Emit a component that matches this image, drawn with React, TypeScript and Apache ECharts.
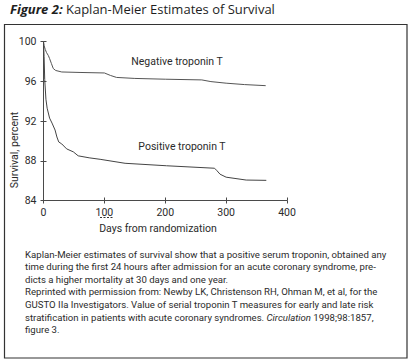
import React, { useEffect, useRef } from "react";
import * as echarts from "echarts";

// ---- Data ----
const negativeTroponin: [number, number][] = [
  [0, 100], [1, 99.6], [3, 99.2], [5, 98.9], [8, 98.6], [10, 98.3], [13, 97.8],
  [16, 97.3], [20, 97.1], [30, 96.95], [60, 96.9], [100, 96.85], [110, 96.6],
  [120, 96.4], [150, 96.3], [200, 96.22], [260, 96.15], [275, 95.98], [300, 95.82],
  [330, 95.68], [365, 95.57],
];

const positiveTroponin: [number, number][] = [
  [0, 100], [1, 98.5], [2, 96.2], [4, 94.2], [6, 93.3], [10, 92.3], [14, 91.8],
  [19, 91.1], [22, 90.4], [25, 89.9], [30, 89.7], [38, 89.2], [49, 88.9], [57, 88.5],
  [75, 88.3], [93, 88.15], [134, 87.75], [202, 87.5], [281, 87.25], [285, 87.0],
  [290, 86.65], [300, 86.35], [333, 86.06], [366, 86.03],
];

const xTicks = { min: 0, max: 400, interval: 100 };
const yTicks = { min: 84, max: 100, interval: 4 };

const titleBold = "Figure 2:";
const titleRest = "Kaplan-Meier Estimates of Survival";
const yAxisTitle = "Survival, percent";
const xAxisTitle = "Days from randomization";
const negLabel = "Negative troponin T";
const posLabel = "Positive troponin T";

const captionLines: string[] = [
  "Kaplan-Meier estimates of survival show that a positive serum troponin, obtained any",
  "time during the first 24 hours after admission for an acute coronary syndrome, pre-",
  "dicts a higher mortality at 30 days and one year.",
  "Reprinted with permission from: Newby LK, Christenson RH, Ohman M, et al, for the",
  "GUSTO IIa Investigators. Value of serial troponin T measures for early and late risk",
  "stratification in patients with acute coronary syndromes. {i|Circulation} 1998;98:1857,",
  "figure 3.",
];

const FONT = "Roboto";
const TXT = "#2b2b2b";
const LINE = "#4a4a4a";

export default function App() {
  const ref = useRef<HTMLDivElement>(null);

  useEffect(() => {
    if (!ref.current) return;
    const chart = echarts.init(ref.current, undefined, { renderer: "svg" });

    const axisLabelStyle = { color: TXT, fontFamily: FONT, fontSize: 10.5 };

    const captionGraphics = captionLines.map((line, i) => ({
      type: "text",
      left: 25,
      top: 249 + i * 12.6,
      style: {
        text: line,
        fill: TXT,
        font: `9.6px ${FONT}`,
        rich: {
          i: { fontStyle: "italic", fontFamily: FONT, fontSize: 9.6, fill: TXT },
        },
      },
    }));

    chart.setOption({
      animation: false,
      backgroundColor: "#ffffff",
      grid: { left: 43.5, right: 124, top: 41.7, bottom: 161.5 },
      xAxis: [
        {
          type: "value",
          ...xTicks,
          position: "bottom",
          axisLine: { show: true, lineStyle: { color: LINE, width: 1 } },
          axisTick: { show: true, length: 3, lineStyle: { color: LINE } },
          axisLabel: { ...axisLabelStyle, margin: 6 },
          splitLine: { show: false },
        },
        {
          type: "value",
          ...xTicks,
          position: "bottom",
          axisLine: { show: false },
          axisTick: { show: true, inside: true, length: 3, lineStyle: { color: LINE } },
          axisLabel: { show: false },
          splitLine: { show: false },
        },
      ],
      yAxis: [
        {
          type: "value",
          ...yTicks,
          position: "left",
          axisLine: { show: true, lineStyle: { color: LINE, width: 1 } },
          axisTick: { show: true, length: 3, lineStyle: { color: LINE } },
          axisLabel: { ...axisLabelStyle, margin: 7 },
          splitLine: { show: false },
        },
        {
          type: "value",
          ...yTicks,
          position: "left",
          axisLine: { show: false },
          axisTick: { show: true, inside: true, length: 3, lineStyle: { color: LINE } },
          axisLabel: { show: false },
          splitLine: { show: false },
        },
      ],
      series: [
        {
          name: negLabel,
          type: "line",
          data: negativeTroponin,
          showSymbol: false,
          symbol: "none",
          lineStyle: { color: "#555555", width: 1 },
          xAxisIndex: 0,
          yAxisIndex: 0,
        },
        {
          name: posLabel,
          type: "line",
          data: positiveTroponin,
          showSymbol: false,
          symbol: "none",
          lineStyle: { color: "#444444", width: 1 },
          xAxisIndex: 0,
          yAxisIndex: 0,
        },
      ],
      graphic: [
        {
          type: "rect",
          shape: { x: 4.5, y: 24.5, width: 402.5, height: 333.5 },
          style: { fill: "none", stroke: "#333333", lineWidth: 1.2 },
          silent: true,
        },
        {
          type: "text",
          left: 10,
          top: 2,
          style: {
            text: `{b|${titleBold}} ${titleRest}`,
            font: `13px 'Open Sans'`,
            fill: "#1e1e1e",
            rich: {
              b: {
                fontFamily: "Open Sans",
                fontSize: 13,
                fontWeight: "bold",
                fontStyle: "italic",
                fill: "#1e1e1e",
              },
            },
          },
        },
        {
          type: "text",
          x: 14,
          y: 150,
          rotation: Math.PI / 2,
          style: {
            text: yAxisTitle,
            fill: TXT,
            font: `10.5px ${FONT}`,
            align: "center",
            verticalAlign: "middle",
          },
        },
        {
          type: "text",
          x: 158,
          y: 228,
          style: {
            text: xAxisTitle,
            fill: TXT,
            font: `10.5px ${FONT}`,
            align: "center",
            verticalAlign: "middle",
          },
        },
        {
          type: "text",
          x: 177,
          y: 61,
          style: {
            text: negLabel,
            fill: TXT,
            font: `10.5px ${FONT}`,
            align: "center",
            verticalAlign: "middle",
          },
        },
        {
          type: "text",
          x: 182,
          y: 146,
          style: {
            text: posLabel,
            fill: TXT,
            font: `10.5px ${FONT}`,
            align: "center",
            verticalAlign: "middle",
          },
        },
        {
          type: "line",
          shape: { x1: 100, y1: 217.5, x2: 113, y2: 217.5 },
          style: { stroke: "#333333", lineWidth: 1, lineDash: [2, 1.5] },
          silent: true,
        },
        ...captionGraphics,
      ],
    });

    return () => chart.dispose();
  }, []);

  return (
    <div
      ref={ref}
      style={{ position: "fixed", left: 0, top: 0, width: 411, height: 362, background: "#fff" }}
    />
  );
}
